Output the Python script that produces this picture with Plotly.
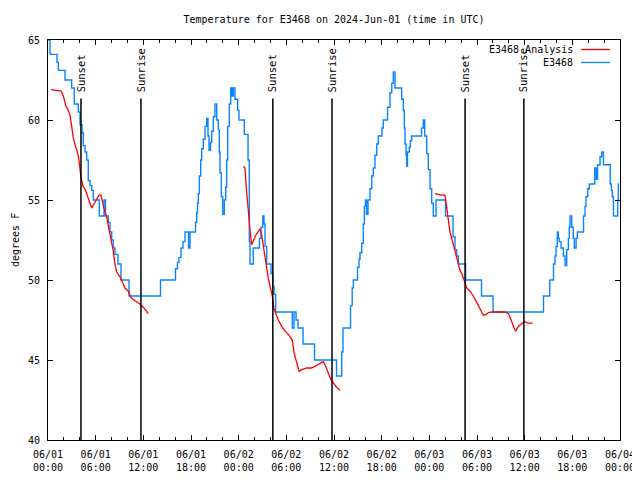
import pandas as pd
import plotly.graph_objects as go

# ---------------- data (hours after 2024-06-01 00:00 UTC, deg F) ----------------
BASE = "2024-06-01 00:00"

obs_hours = [0.00, 0.25, 1.13, 1.30, 2.14, 2.98, 3.31, 3.81, 4.03, 4.28, 4.44, 4.66, 4.87, 5.07,
             5.29, 5.50, 5.70, 6.46, 7.05, 7.24, 7.59, 7.80, 8.02, 8.22, 8.43, 8.81, 9.19, 10.20,
             14.16, 16.05, 16.30, 16.49, 16.74, 16.99, 17.25, 17.69, 17.88, 18.57, 18.72, 18.82,
             18.92, 19.05, 19.22, 19.35, 19.55, 19.76, 19.98, 20.14, 20.27, 20.46, 20.61, 20.81,
             21.02, 21.24, 21.44, 21.56, 21.65, 21.82, 21.99, 22.19, 22.37, 22.49, 22.62, 22.82,
             23.00, 23.16, 23.33, 23.54, 23.88, 24.04, 24.71, 25.18, 25.34, 25.43, 25.84, 26.62,
             26.81, 27.03, 27.19, 27.32, 27.53, 28.07, 28.29, 28.45, 28.66, 30.75, 30.97, 31.22,
             31.47, 32.10, 33.55, 36.32, 36.97, 37.13, 38.08, 38.29, 38.43, 38.96, 39.15, 39.27,
             39.49, 39.69, 39.82, 39.97, 40.09, 40.28, 40.53, 40.75, 40.95, 41.16, 41.38, 41.58,
             42.04, 42.21, 42.74, 43.05, 43.27, 43.47, 43.68, 44.52, 44.73, 44.85, 44.94, 45.07,
             45.15, 45.25, 45.48, 45.61, 45.78, 47.02, 47.24, 47.42, 47.67, 47.87, 48.09, 48.30,
             48.50, 48.84, 50.04, 50.98, 51.23, 51.45, 51.65, 52.56, 54.57, 56.02, 62.37, 63.16,
             63.63, 63.82, 63.95, 64.11, 64.24, 64.36, 64.58, 64.87, 65.08, 65.29, 65.50, 65.62,
             65.71, 65.92, 66.12, 66.25, 66.47, 66.63, 67.41, 67.60, 67.72, 67.94, 68.14, 68.82,
             69.01, 69.17, 69.49, 69.70, 69.92, 70.77, 70.91, 71.03, 71.18, 71.71, 71.79, 71.88]
obs_temps = [65.0, 64.1, 63.6, 63.1, 62.5, 62.0, 61.0, 60.5, 59.7, 59.2, 58.4, 58.0, 57.5, 56.2,
             55.9, 55.6, 55.0, 54.0, 55.0, 54.0, 53.6, 53.0, 52.5, 52.0, 51.6, 51.0, 50.0, 49.0,
             50.0, 50.7, 51.1, 51.4, 52.0, 52.4, 53.0, 52.0, 53.0, 53.6, 54.2, 54.8,
             55.4, 56.5, 57.5, 58.2, 58.8, 59.6, 60.1, 59.0, 58.1, 58.6, 59.3, 60.2,
             61.0, 60.0, 59.4, 58.0, 56.7, 55.2, 54.1, 55.0, 55.8, 57.5, 59.6, 61.0,
             62.0, 61.5, 62.0, 61.3, 60.6, 60.0, 59.1, 57.5, 52.4, 51.0, 52.0, 52.6,
             53.3, 54.0, 53.5, 52.1, 51.0, 50.4, 49.6, 49.1, 48.0, 47.0, 48.0, 47.5,
             47.0, 46.0, 45.0, 44.0, 45.5, 47.0, 48.4, 49.5, 50.0, 50.8, 51.3, 51.7,
             52.3, 53.5, 54.6, 55.0, 54.1, 55.0, 55.7, 56.5, 57.0, 57.8, 58.5, 59.0,
             59.5, 60.0, 60.8, 61.7, 62.3, 63.0, 62.0, 61.3, 60.6, 59.5, 58.5, 57.8,
             57.1, 58.0, 58.3, 58.7, 59.0, 59.5, 60.0, 59.0, 57.9, 56.9, 55.7, 54.8,
             54.0, 55.0, 54.0, 52.7, 51.9, 51.5, 51.0, 50.0, 49.0, 48.0, 49.0, 50.0,
             51.0, 51.5, 52.1, 53.0, 52.6, 52.4, 52.0, 51.5, 50.9, 51.9, 52.6, 53.3,
             54.0, 53.3, 52.6, 52.0, 52.6, 53.0, 54.0, 54.6, 55.2, 55.7, 56.0, 57.0,
             56.3, 57.2, 57.7, 58.0, 57.2, 56.0, 55.6, 55.2, 54.0, 55.0, 56.0, 56.0]

ana1_hours = [0.38, 1.64, 1.93, 2.23, 2.56, 2.77, 2.98, 3.18, 3.49, 3.65, 3.90, 4.03, 4.15, 4.44,
              4.66, 5.00, 5.29, 5.50, 5.83, 6.13, 6.42, 6.67, 6.84, 7.09, 7.39, 7.59, 7.80, 8.02,
              8.22, 8.43, 8.65, 9.06, 9.48, 9.69, 10.11, 10.45, 10.95, 11.58, 12.00, 12.42, 12.63]
ana1_temps = [61.9, 61.8, 61.5, 60.9, 60.6, 60.3, 59.6, 58.9, 58.3, 58.1, 57.5, 57.0, 56.4, 55.8,
              55.7, 55.2, 54.7, 54.5, 54.8, 55.1, 55.3, 55.3, 54.9, 54.4, 53.9, 53.4, 53.0, 52.4,
              51.8, 51.0, 50.5, 50.2, 49.8, 49.5, 49.3, 48.9, 48.7, 48.5, 48.3, 48.0, 47.9]
ana2_hours = [24.58, 24.80, 24.92, 25.14, 25.21, 25.43, 25.64, 25.87, 26.15, 26.44, 26.69, 26.90,
              27.10, 27.32, 27.53, 27.73, 27.95, 28.24, 28.45, 28.66, 28.99, 29.42, 29.83, 30.25,
              30.75, 31.00, 31.31, 31.60, 31.94, 32.57, 33.19, 34.03, 34.66, 34.87, 35.21, 35.50,
              35.71, 36.00, 36.34, 36.76]
ana2_temps = [57.1, 57.0, 56.0, 54.8, 54.0, 53.1, 52.2, 52.5, 52.8, 53.0, 53.2, 52.8,
              52.1, 51.25, 50.6, 50.1, 49.6, 49.0, 48.2, 47.9, 47.5, 47.1, 46.8, 46.6,
              46.25, 45.4, 44.8, 44.3, 44.4, 44.5, 44.5, 44.7, 44.9, 44.7, 44.2, 43.9,
              43.7, 43.5, 43.3, 43.1]
ana3_hours = [48.72, 49.56, 49.97, 50.10, 50.23, 50.39, 50.60, 50.82, 51.02, 51.23, 51.45, 51.65,
              51.86, 52.08, 52.28, 52.49, 52.71, 53.12, 53.54, 53.97, 54.38, 54.80, 55.14, 55.43,
              55.85, 57.53, 57.95, 58.16, 58.37, 58.66, 58.87, 59.20, 59.63, 59.96, 60.46, 61.01]
ana3_temps = [55.4, 55.3, 55.3, 54.8, 54.2, 53.5, 53.0, 52.6, 52.2, 51.8, 51.25, 51.0,
              50.6, 50.4, 50.1, 49.7, 49.5, 49.3, 49.0, 48.6, 48.2, 47.8, 47.85, 47.96,
              48.0, 48.0, 47.9, 47.7, 47.4, 47.0, 46.8, 47.1, 47.3, 47.4, 47.3, 47.3]

sunset_hours = [4.15, 28.3, 52.5]
sunrise_hours = [11.7, 35.75, 59.9]

tick_hours = [0, 6, 12, 18, 24, 30, 36, 42, 48, 54, 60, 66, 72]
tick_labels = ["06/01<br>00:00", "06/01<br>06:00", "06/01<br>12:00", "06/01<br>18:00",
               "06/02<br>00:00", "06/02<br>06:00", "06/02<br>12:00", "06/02<br>18:00",
               "06/03<br>00:00", "06/03<br>06:00", "06/03<br>12:00", "06/03<br>18:00",
               "06/04<br>00:00"]
y_ticks = [40, 45, 50, 55, 60, 65]

title_text = "Temperature for E3468 on 2024-Jun-01 (time in UTC)"
series_names = ["E3468 Analysis", "E3468"]

# ---------------- helpers ----------------
base = pd.Timestamp(BASE)
def to_time(hours):
    return [None if h is None else base + pd.Timedelta(hours=h) for h in hours]

FONT = "DejaVu Sans Mono"
RED = "#ff0000"
BLUE = "#0a84ff"

ana_hours = ana1_hours + [None] + ana2_hours + [None] + ana3_hours
ana_temps = ana1_temps + [None] + ana2_temps + [None] + ana3_temps

fig = go.Figure()
fig.add_trace(go.Scatter(x=to_time(obs_hours), y=obs_temps, mode="lines", line_shape="hv",
                         line=dict(color=BLUE, width=1.4), name=series_names[1],
                         showlegend=False))
fig.add_trace(go.Scatter(x=to_time(ana_hours), y=ana_temps, mode="lines",
                         line=dict(color=RED, width=1.3), name=series_names[0],
                         connectgaps=False, showlegend=False))

# sunrise / sunset markers
for hours, label in ((sunset_hours, "Sunset"), (sunrise_hours, "Sunrise")):
    for h in hours:
        t = base + pd.Timedelta(hours=h)
        fig.add_shape(type="line", xref="x", yref="y", x0=t, x1=t, y0=40, y1=61.35,
                      line=dict(color="black", width=1.5))
        fig.add_annotation(x=t, y=61.6, xref="x", yref="y", text=label, textangle=-90,
                           showarrow=False, xanchor="center", yanchor="bottom",
                           font=dict(family=FONT, size=10.5, color="black"))

# manual legend (text left, sample line right, like the original)
PW, PH = 572.0, 400.0
def px(xp):
    return (xp - 48) / PW
def py(yp):
    return (440 - yp) / PH
for name, color, yp in ((series_names[0], RED, 49.5), (series_names[1], BLUE, 62.5)):
    fig.add_annotation(x=px(575), y=py(yp), xref="paper", yref="paper", text=name,
                       showarrow=False, xanchor="right", yanchor="middle",
                       font=dict(family=FONT, size=10, color="black"))
    fig.add_shape(type="line", xref="paper", yref="paper", x0=px(581), x1=px(610),
                  y0=py(yp), y1=py(yp), line=dict(color=color, width=1.3))

# y axis label
fig.add_annotation(x=px(15), y=0.5, xref="paper", yref="paper", text="degrees F",
                   textangle=-90, showarrow=False, xanchor="center", yanchor="middle",
                   font=dict(family=FONT, size=10, color="black"))

# the page adds an 8px body margin, so the figure margins are offset by 8px
fig.update_layout(
    width=640, height=480,
    margin=dict(l=40, r=28, t=32, b=48, autoexpand=False),
    paper_bgcolor="white", plot_bgcolor="white",
    font=dict(family=FONT, size=10, color="black"),
    title=dict(text=title_text, x=326 / 640, xanchor="center", y=1 - 11 / 480,
               yanchor="middle", font=dict(family=FONT, size=10, color="black")),
    showlegend=False,
)
fig.update_xaxes(
    type="date",
    range=[base, base + pd.Timedelta(hours=72)],
    tickmode="array",
    tickvals=to_time(tick_hours), ticktext=tick_labels,
    ticks="inside", ticklen=5, tickcolor="black", tickwidth=1,
    minor=dict(dtick=2 * 3600 * 1000, tick0=base, ticks="inside", ticklen=3,
               tickcolor="black", showgrid=False),
    showline=True, linecolor="black", linewidth=1, mirror="ticks",
    showgrid=False, zeroline=False, automargin=False, ticklabelstandoff=5,
    tickfont=dict(family=FONT, size=10, color="black"),
)
fig.update_yaxes(
    range=[40, 65], tickmode="array", tickvals=y_ticks,
    ticktext=[str(v) for v in y_ticks],
    ticks="inside", ticklen=5, tickcolor="black",
    showline=True, linecolor="black", linewidth=1, mirror="ticks",
    showgrid=False, zeroline=False, automargin=False, ticklabelstandoff=5,
    tickfont=dict(family=FONT, size=10, color="black"),
)

fig.write_html("out.html")
